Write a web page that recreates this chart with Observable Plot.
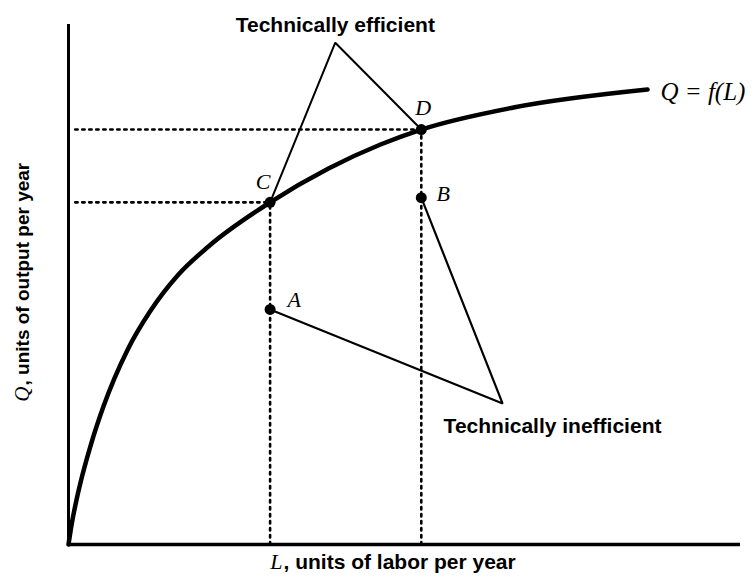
<!DOCTYPE html>
<html>
<head>
<meta charset="utf-8">
<script src="https://cdn.jsdelivr.net/npm/d3@7"></script>
<script src="https://cdn.jsdelivr.net/npm/@observablehq/plot@0.6"></script>
<style>
  html, body { margin: 0; padding: 0; background: #fff; }
</style>
</head>
<body>
<div id="chart"></div>
<script>
// Production function Q = f(L) (arbitrary units 0–100)
const curveL = [0, 0.45, 1.19, 2.08, 3.27, 5.21, 8.78, 12.2, 16.37, 20.83, 30, 38.69, 46.43, 52.5, 66.22, 86.16];
const curveQ = [0, 3.75, 8.56, 13.4, 18.94, 26.58, 37.42, 44.94, 51.92, 57.31, 65.8, 72.31, 76.92, 79.8, 84.04, 87.5];

// Labelled points
const pointNames = ["A", "B", "C", "D"];
const pointL = [30, 52.5, 30, 52.5];
const pointQ = [45.2, 66.7, 65.8, 79.8];

// Apexes of the callout triangles
const efficientApex = {L: 39.7, Q: 96.5};
const inefficientApex = {L: 64.6, Q: 27.1};

// Texts
const efficientLabel = "Technically efficient";
const inefficientLabel = "Technically inefficient";
const curveLabel = "Q = f(L)";
const xVar = "L", xText = ", units of labor per year";
const yVar = "Q", yText = ", units of output per year";

const curve = curveL.map((L, i) => ({L, Q: curveQ[i]}));
const pts = pointNames.map((name, i) => ({name, L: pointL[i], Q: pointQ[i]}));
const P = Object.fromEntries(pts.map(d => [d.name, d]));

const efficientTri = [P.C, efficientApex, P.D];
const inefficientTri = [P.A, inefficientApex, P.B];

const guidesH = [P.C, P.D].map(d => [{L: 1, Q: d.Q}, d]);
const guidesV = [P.C, P.D].map(d => [{L: d.L, Q: 0}, d]);

const sans = "Liberation Sans, Arial, Helvetica, sans-serif";
const serif = "Liberation Serif, Times New Roman, serif";

const labelMark = (name, dx, dy) => Plot.text(pts.filter(d => d.name === name), {
  x: "L", y: "Q", text: "name", dx, dy,
  fontFamily: serif, fontStyle: "italic", fontSize: 22, fill: "black"
});

const dotted = {x: "L", y: "Q", stroke: "black", strokeWidth: 2.6, strokeDasharray: "2.4,4.6"};

const chart = Plot.plot({
  width: 755,
  height: 583,
  marginLeft: 68,
  marginRight: 15,
  marginTop: 24,
  marginBottom: 39,
  x: {domain: [0, 100], axis: null},
  y: {domain: [0, 100], axis: null},
  style: {background: "white", overflow: "visible"},
  marks: [
    // dotted guides
    ...guidesH.map(seg => Plot.line(seg, dotted)),
    ...guidesV.map(seg => Plot.line(seg, dotted)),
    // axes
    Plot.ruleX([0], {stroke: "black", strokeWidth: 3}),
    Plot.ruleY([0], {stroke: "black", strokeWidth: 3.5}),
    // production function
    Plot.line(curve, {x: "L", y: "Q", curve: "monotone-x", stroke: "black", strokeWidth: 4.5}),
    // callout triangles
    Plot.line(efficientTri, {x: "L", y: "Q", stroke: "black", strokeWidth: 2, strokeLinejoin: "miter"}),
    Plot.line(inefficientTri, {x: "L", y: "Q", stroke: "black", strokeWidth: 2.2, strokeLinejoin: "miter"}),
    // points
    Plot.dot(pts, {x: "L", y: "Q", r: 5.5, fill: "black", stroke: "none"}),
    // point labels
    labelMark("C", -7, -20),
    labelMark("D", 2, -22),
    labelMark("A", 24, -10),
    labelMark("B", 22, -4),
    // callout texts
    Plot.text([efficientApex], {x: "L", y: "Q", text: [efficientLabel], dy: -17, textAnchor: "middle",
      fontFamily: sans, fontWeight: "bold", fontSize: 21, fill: "black"}),
    Plot.text([inefficientApex], {x: "L", y: "Q", text: [inefficientLabel], dx: -59, dy: 23, textAnchor: "start",
      fontFamily: sans, fontWeight: "bold", fontSize: 21, fill: "black"}),
    // curve label
    Plot.text([curve[curve.length - 1]], {x: "L", y: "Q", text: [curveLabel], dx: 13, dy: 2, textAnchor: "start",
      fontFamily: serif, fontStyle: "italic", fontSize: 25, fill: "black"}),
    // x axis label
    Plot.text([xVar], {frameAnchor: "bottom", text: d => d, dx: -122, dy: 24, textAnchor: "end",
      fontFamily: serif, fontStyle: "italic", fontSize: 22, fill: "black"}),
    Plot.text([xText], {frameAnchor: "bottom", text: d => d, dx: -121, dy: 24, textAnchor: "start",
      fontFamily: sans, fontWeight: "bold", fontSize: 21, fill: "black"}),
    // y axis label
    Plot.text([yVar], {frameAnchor: "left", text: d => d, dx: -46, dy: 102, rotate: -90, textAnchor: "end",
      fontFamily: serif, fontStyle: "italic", fontSize: 21, fill: "black"}),
    Plot.text([yText], {frameAnchor: "left", text: d => d, dx: -46, dy: 101, rotate: -90, textAnchor: "start",
      fontFamily: sans, fontWeight: "bold", fontSize: 19, fill: "black"})
  ]
});

document.getElementById("chart").appendChild(chart);
</script>
</body>
</html>
